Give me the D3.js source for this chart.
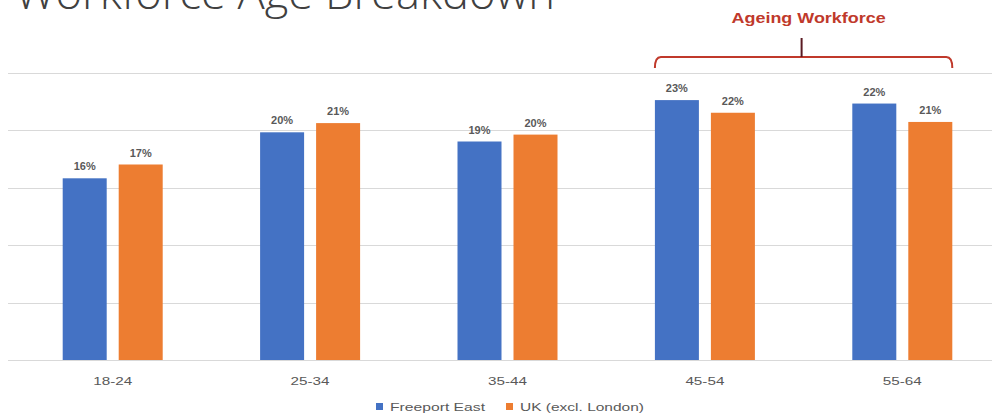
<!DOCTYPE html>
<html>
<head>
<meta charset="utf-8">
<script src="https://cdn.jsdelivr.net/npm/d3@7"></script>
<style>
  html, body { margin: 0; padding: 0; background: #fff; }
  svg { display: block; }
</style>
</head>
<body>
<svg id="chart" width="997" height="419"></svg>
<script>
const categories = ["18-24", "25-34", "35-44", "45-54", "55-64"];
const seriesNames = ["Freeport East", "UK (excl. London)"];
const freeportEast = [15.8, 19.8, 19.0, 22.6, 22.3];
const ukExclLondon = [17.0, 20.6, 19.6, 21.5, 20.7];
const yTicks = [0, 5, 10, 15, 20, 25];
const titleText = "Workforce Age Breakdown";
const annotationText = "Ageing Workforce";
const annotatedCategories = ["45-54", "55-64"];

const colors = ["#4472C4", "#ED7D31"];
const seriesValues = [freeportEast, ukExclLondon];

const svg = d3.select("#chart");

const y = d3.scaleLinear().domain([0, 25]).range([360, 72.5]);
const x0 = d3.scaleBand().domain(categories).range([14, 1001]).padding(0);
const groupW = 100;
const x1 = d3.scaleBand().domain(seriesNames)
  .range([x0.bandwidth() / 2 - groupW / 2, x0.bandwidth() / 2 + groupW / 2])
  .paddingInner(12 / 56).paddingOuter(0);

// gridlines
svg.append("g").selectAll("line").data(yTicks).join("line")
  .attr("x1", 8).attr("x2", 992)
  .attr("y1", d => Math.round(y(d)) + 0.5).attr("y2", d => Math.round(y(d)) + 0.5)
  .attr("stroke", "#d9d9d9").attr("stroke-width", 1);

// bars
const groups = svg.append("g").selectAll("g").data(categories).join("g")
  .attr("transform", d => `translate(${x0(d)},0)`);

groups.selectAll("rect").data((c, i) => seriesNames.map((s, j) => ({ s, j, v: seriesValues[j][i] })))
  .join("rect")
  .attr("x", d => x1(d.s)).attr("width", x1.bandwidth())
  .attr("y", d => y(d.v)).attr("height", d => y(0) - y(d.v))
  .attr("fill", d => colors[d.j]);

groups.selectAll("text").data((c, i) => seriesNames.map((s, j) => ({ s, j, v: seriesValues[j][i] })))
  .join("text")
  .attr("x", d => x1(d.s) + x1.bandwidth() / 2)
  .attr("y", d => y(d.v) - 8)
  .attr("text-anchor", "middle")
  .attr("font-family", "'Liberation Sans', Arial, sans-serif")
  .attr("font-size", 11).attr("font-weight", "bold")
  .attr("fill", "#595959")
  .text(d => Math.round(d.v) + "%");

// x axis labels
svg.append("g").selectAll("text").data(categories).join("text")
  .attr("x", d => x0(d) + x0.bandwidth() / 2)
  .attr("y", 385)
  .attr("text-anchor", "middle")
  .attr("font-family", "'Liberation Sans', Arial, sans-serif")
  .attr("font-size", 11)
  .attr("fill", "#595959")
  .attr("textLength", 39).attr("lengthAdjust", "spacingAndGlyphs")
  .text(d => d);

// legend
const legend = svg.append("g");
const legendItems = [{ name: seriesNames[0], x: 376, w: 95 }, { name: seriesNames[1], x: 506, w: 124 }];
legendItems.forEach((it, i) => {
  legend.append("rect").attr("x", it.x).attr("y", 403).attr("width", 7).attr("height", 7)
    .attr("fill", colors[i]);
  legend.append("text").attr("x", it.x + 14).attr("y", 411)
    .attr("font-family", "'Liberation Sans', Arial, sans-serif")
    .attr("font-size", 11).attr("fill", "#595959")
    .attr("textLength", it.w).attr("lengthAdjust", "spacingAndGlyphs")
    .text(it.name);
});

// title (cropped at top, as in the reference)
svg.append("text")
  .attr("x", 15).attr("y", 9)
  .attr("font-family", "'Open Sans', sans-serif")
  .attr("font-weight", 300)
  .attr("font-size", 44)
  .attr("fill", "#404040")
  .attr("textLength", 540).attr("lengthAdjust", "spacingAndGlyphs")
  .text(titleText);

// annotation brace
const a0 = x0(annotatedCategories[0]) + x0.bandwidth() / 2 - groupW / 2;
const a1 = x0(annotatedCategories[1]) + x0.bandwidth() / 2 + groupW / 2;
const mid = (a0 + a1) / 2;
const red = "#C0392B";
const by = 57;
const path = d3.path();
path.moveTo(a0, by + 11);
path.quadraticCurveTo(a0, by, a0 + 6, by);
path.lineTo(a1 - 6, by);
path.quadraticCurveTo(a1, by, a1, by + 11);
svg.append("path").attr("d", path.toString()).attr("fill", "none")
  .attr("stroke", red).attr("stroke-width", 2);
svg.append("line").attr("x1", mid - 2).attr("x2", mid - 2).attr("y1", by).attr("y2", 38)
  .attr("stroke", "#5a1a22").attr("stroke-width", 2);
svg.append("text").attr("x", mid + 5).attr("y", 23)
  .attr("text-anchor", "middle")
  .attr("font-family", "'Liberation Sans', Arial, sans-serif")
  .attr("font-size", 15).attr("font-weight", "bold")
  .attr("fill", red)
  .attr("textLength", 154).attr("lengthAdjust", "spacingAndGlyphs")
  .text(annotationText);
</script>
</body>
</html>
